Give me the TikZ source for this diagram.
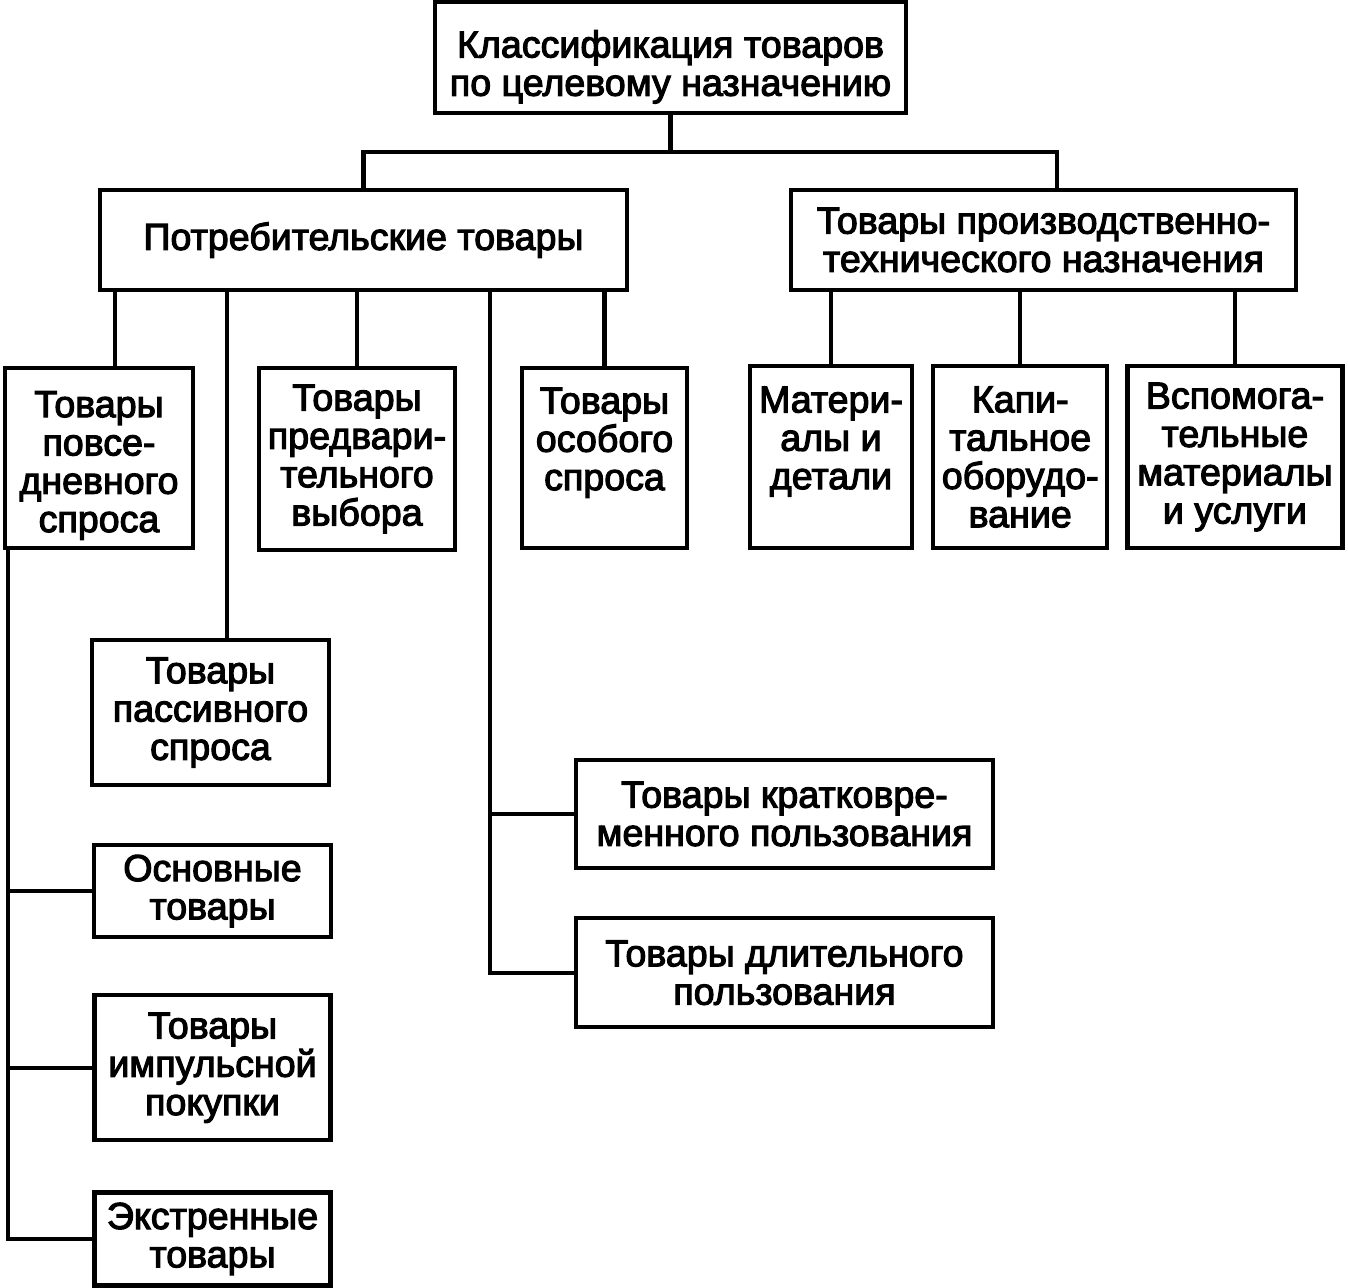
\documentclass[tikz,border=0pt]{standalone}
\usepackage{fontspec}
\setmainfont[FakeBold=3]{Liberation Sans}
\usetikzlibrary{positioning}
\tikzset{
    %Define style for boxes
    category/.style={
           rectangle,
           draw=black, line width=1.2pt,
           inner sep=0pt,
           align=center,
           font=\fontsize{10.7pt}{10.9pt}\selectfont,
           text centered},
    % Define line style
    tie/.style={
           line width=1.2pt}
}

\begin{document}
\begin{tikzpicture}[main node/.style={category}]
\useasboundingbox (0,0) rectangle (13.48,-12.88);
\node[main node, minimum width=4.71cm, minimum height=1.11cm] (1) at (6.705,-0.575) {\rule{0pt}{0.46cm}Классификация товаров\\по целевому назначению};
\node[main node, minimum width=5.27cm, minimum height=1.00cm] (2) at (3.635,-2.40) {Потребительские товары};
\node[main node, minimum width=5.05cm, minimum height=1.00cm] (3) at (10.435,-2.40) {Товары производственно-\\технического назначения};

\node[main node, minimum width=1.88cm, minimum height=1.80cm] (4) at (0.99,-4.58) {\rule{0pt}{0.41cm}Товары\\повсе-\\дневного\\спроса};
\node[main node, minimum width=1.96cm, minimum height=1.82cm] (5) at (3.57,-4.59) {Товары\\предвари-\\тельного\\выбора};
\node[main node, minimum width=1.65cm, minimum height=1.80cm] (6) at (6.045,-4.58) {Товары\\особого\\спроса\\ \mbox{}};
\node[main node, minimum width=2.37cm, minimum height=1.45cm] (7) at (2.105,-7.125) {Товары\\пассивного\\спроса};

\node[main node, minimum width=2.37cm, minimum height=0.92cm] (8) at (2.125,-8.91) {Основные\\товары};
\node[main node, minimum width=2.36cm, minimum height=1.45cm, below=0.54cm of 8] (9) {Товары\\импульсной\\покупки};
\node[main node, minimum width=2.36cm, minimum height=0.93cm, below=0.48cm of 9] (10) {Экстренные\\товары};

\node[main node, minimum width=4.17cm, minimum height=1.08cm] (11) at (7.845,-8.14) {Товары кратковре-\\менного пользования};
\node[main node, minimum width=4.17cm, minimum height=1.09cm, below=0.46cm of 11] (12) {Товары длительного\\пользования};

\node[main node, minimum width=1.62cm, minimum height=1.82cm] (13) at (8.31,-4.57) {Матери-\\алы и\\детали\\ \mbox{}};
\node[main node, minimum width=1.74cm, minimum height=1.82cm, right=0.17cm of 13] (14) {Капи-\\тальное\\оборудо-\\вание};
\node[main node, minimum width=2.15cm, minimum height=1.82cm, right=0.16cm of 14] (15) {Вспомога-\\тельные\\материалы\\и услуги};

% top level
\coordinate (h) at (6.705,-1.52);
\draw[tie] (1.south) -- (h);
\draw[tie] (2.north) |- (h) -| ([xshift=0.135cm]3.north);

% consumer goods
\draw[tie] (2.south -| 1.15,0) -- (4.north -| 1.15,0);
\draw[tie] (2.south -| 2.27,0) -- (7.north -| 2.27,0);
\draw[tie] (5.north) -- (5.north |- 2.south);
\draw[tie] (6.north) -- (6.north |- 2.south);
\draw[tie] (2.south -| 4.90,0) |- (12.west);
\draw[tie] (11.west) -- (11.west -| 4.90,0);

% everyday goods
\draw[tie] ([xshift=0.05cm]4.south west) |- (10.west);
\draw[tie] (8.west) -- (8.west -| 0.10,0);
\draw[tie] (9.west) -- (9.west -| 0.10,0);

% industrial goods
\draw[tie] (13.north) -- (13.north |- 3.south);
\draw[tie] (14.north) -- (14.north |- 3.south);
\draw[tie] (15.north) -- (15.north |- 3.south);
\end{tikzpicture}
\end{document}
